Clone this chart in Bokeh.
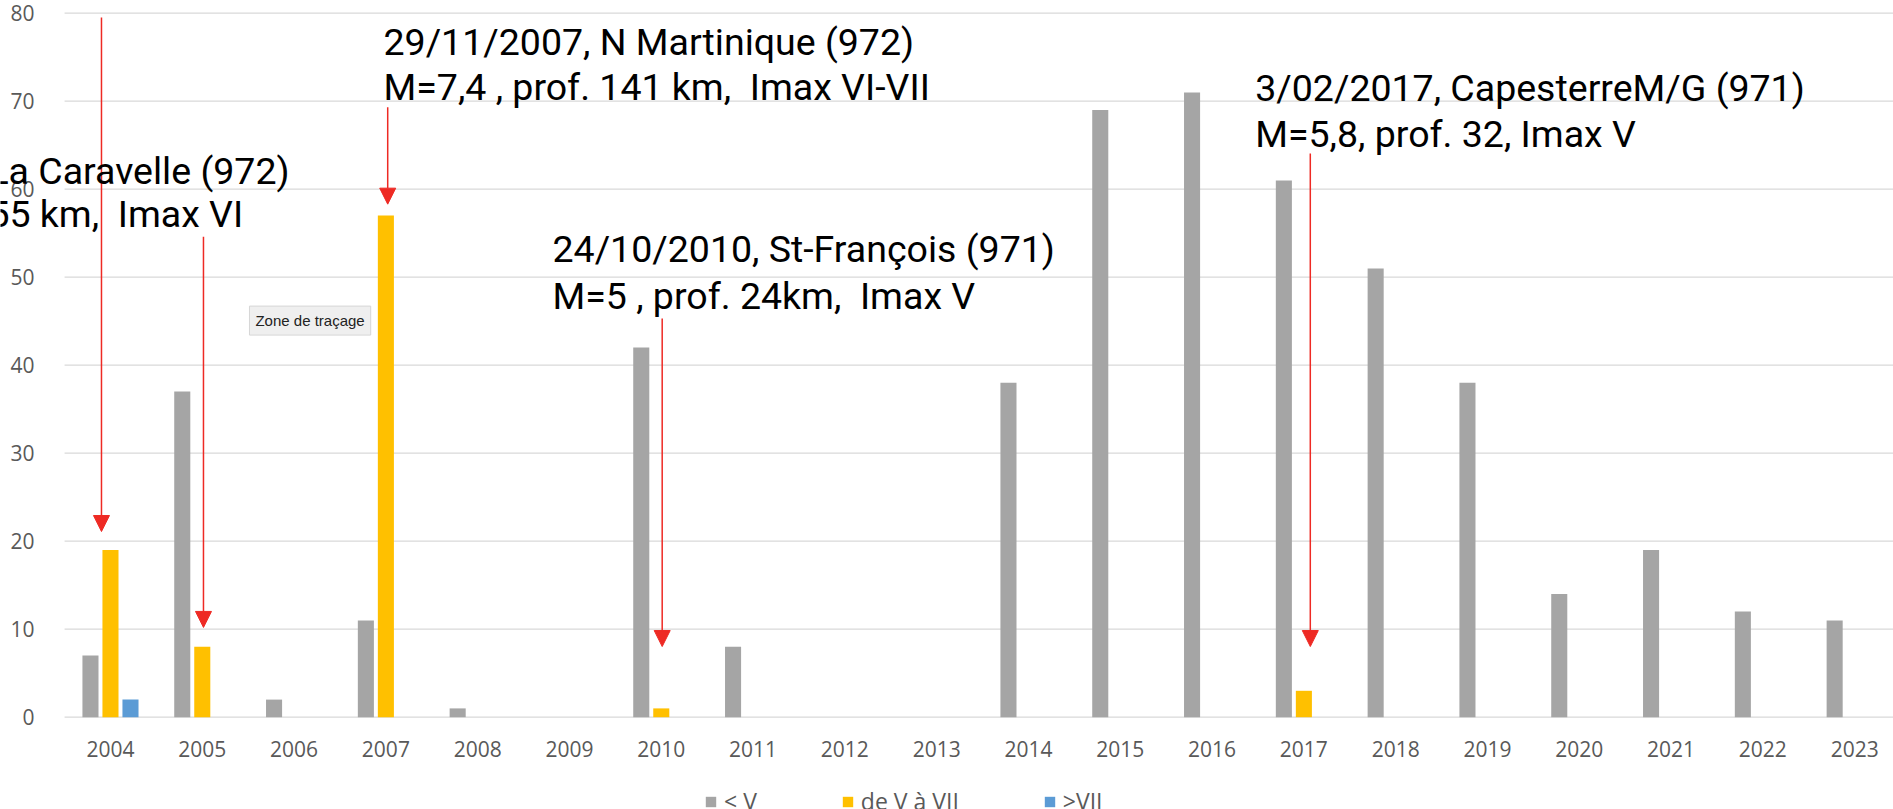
from bokeh.plotting import figure
from bokeh.models import (ColumnDataSource, Range1d, FixedTicker, Legend, LegendItem,
                          Label, Arrow, NormalHead)
from bokeh.transform import dodge
from bokeh.embed import file_html
from bokeh.resources import INLINE

# ---------------- data ----------------
years = ["2004", "2005", "2006", "2007", "2008", "2009", "2010", "2011", "2012", "2013",
         "2014", "2015", "2016", "2017", "2018", "2019", "2020", "2021", "2022", "2023"]
below_v = [7, 37, 2, 11, 1, 0, 42, 8, 0, 0, 38, 69, 71, 61, 51, 38, 14, 19, 12, 11]
v_to_vii = [19, 8, 0, 57, 0, 0, 1, 0, 0, 0, 0, 0, 0, 3, 0, 0, 0, 0, 0, 0]
above_vii = [2, 0, 0, 0, 0, 0, 0, 0, 0, 0, 0, 0, 0, 0, 0, 0, 0, 0, 0, 0]
series_names = ["< V", "de V à VII", ">VII"]
series_colors = ["#A5A5A5", "#FFC000", "#5B9BD5"]
y_ticks = [0, 10, 20, 30, 40, 50, 60, 70, 80]

# event annotations (arrows: x in category units, y in data units)
arrow_x = [-0.098, 1.013, 3.02, 6.01, 13.07]
arrow_y_start = [79.5, 54.6, 69.3, 45.3, 64.06]
arrow_y_end = [21.1, 10.2, 58.3, 8.03, 8.03]

ann_line1 = ["La Caravelle (972)", "29/11/2007, N Martinique (972)",
             "24/10/2010, St-François (971)", "3/02/2017, CapesterreM/G (971)"]
ann_line2 = ["55 km, \u00a0Imax VI", "M=7,4 , prof. 141 km, \u00a0Imax VI-VII",
             "M=5 , prof. 24km, \u00a0Imax V", "M=5,8, prof. 32, Imax V"]
ann_x = [-1.33, 2.974, 4.815, 12.47]
ann_y1 = [62.1, 76.7, 53.23, 71.52]
ann_y2 = [57.2, 71.67, 47.92, 66.3]

# ---------------- figure ----------------
n = len(years)
idx = list(range(n))
src = ColumnDataSource(dict(x=idx, a=below_v, b=v_to_vii, c=above_vii))

p = figure(width=1893, height=809, output_backend="svg", toolbar_location=None,
           x_range=Range1d(-1.198, 19.423), y_range=Range1d(-10.489, 81.443),
           min_border_left=0, min_border_right=0, min_border_top=0, min_border_bottom=0,
           background_fill_color="white", border_fill_color="white")
p.outline_line_color = None
p.xgrid.grid_line_color = None
p.ygrid.grid_line_color = None

# horizontal grid lines over the plot area only
gsrc = ColumnDataSource(dict(y=y_ticks, x0=[-0.5] * len(y_ticks), x1=[19.423] * len(y_ticks)))
p.segment(x0="x0", y0="y", x1="x1", y1="y", source=gsrc, line_color="#D9D9D9", line_width=1.3)

offset = 0.218
bw = 0.175
r1 = p.vbar(x=dodge("x", -offset), top="a", width=bw, source=src,
            fill_color=series_colors[0], line_color=None)
r2 = p.vbar(x=dodge("x", 0.0), top="b", width=bw, source=src,
            fill_color=series_colors[1], line_color=None)
r3 = p.vbar(x=dodge("x", offset), top="c", width=bw, source=src,
            fill_color=series_colors[2], line_color=None)

# axes (drawn at fixed data locations inside the canvas)
p.xaxis.fixed_location = 0
p.yaxis.fixed_location = -0.5
p.xaxis.ticker = FixedTicker(ticks=idx)
p.xaxis.major_label_overrides = {i: y for i, y in zip(idx, years)}
p.yaxis.ticker = FixedTicker(ticks=y_ticks)
for ax in (p.xaxis[0], p.yaxis[0]):
    ax.axis_line_color = None
    ax.major_tick_line_color = None
    ax.minor_tick_line_color = None
    ax.major_label_text_font = "Open Sans"
    ax.major_label_text_font_size = "21px"
    ax.major_label_text_color = "#595959"
p.xaxis.major_label_standoff = 18
p.yaxis.major_label_standoff = 24

# arrows
red = "#EE2A24"
asrc = ColumnDataSource(dict(x0=arrow_x, y0=arrow_y_start, x1=arrow_x, y1=arrow_y_end))
p.add_layout(Arrow(source=asrc, x_start="x0", y_start="y0", x_end="x1", y_end="y1",
                   line_color=red, line_width=1.5,
                   end=NormalHead(size=16, fill_color=red, line_color=red, line_width=1)))

# annotation texts
for t1, t2, x, y1, y2 in zip(ann_line1, ann_line2, ann_x, ann_y1, ann_y2):
    for t, y in ((t1, y1), (t2, y2)):
        p.add_layout(Label(x=x, y=y, text=t, text_font="Roboto", text_font_size="37.5px",
                           text_color="black", text_baseline="alphabetic", text_align="left"))

# tooltip-like box
p.add_layout(Label(x=1.514, y=45.07, text="Zone de traçage", text_font="Liberation Sans",
                   text_font_size="15px", text_color="#222222", text_baseline="middle",
                   background_fill_color="#EFEFEF", border_line_color="#D6D6D6",
                   padding=6))

# legend
legend = Legend(items=[LegendItem(label=series_names[0], renderers=[r1]),
                       LegendItem(label=series_names[1], renderers=[r2]),
                       LegendItem(label=series_names[2], renderers=[r3])],
                orientation="horizontal", location=(704, -8),
                glyph_width=13, glyph_height=13, label_standoff=7, spacing=84,
                label_height=13, padding=0, margin=0, border_line_color=None,
                background_fill_alpha=0,
                label_text_font="Open Sans", label_text_font_size="23px",
                label_text_color="#595959")
p.add_layout(legend, "center")

open("out.html", "w").write(file_html(p, INLINE))
